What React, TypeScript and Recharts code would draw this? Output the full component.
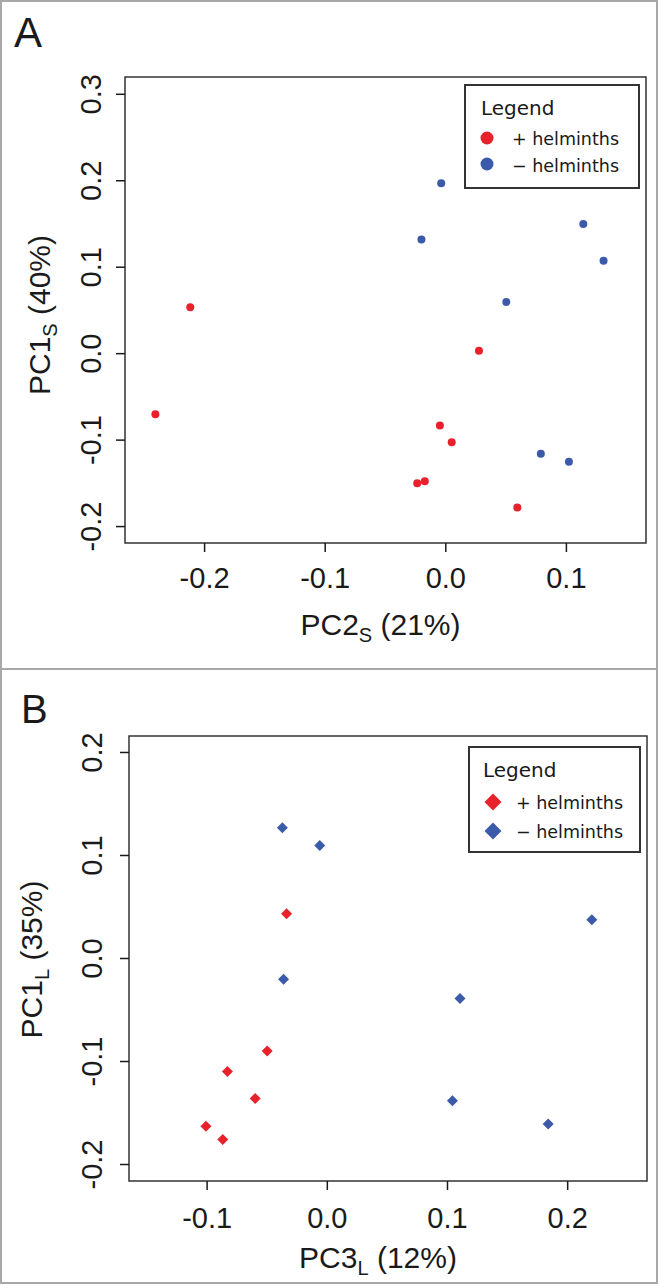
import { ScatterChart, Scatter, XAxis, YAxis, ReferenceArea } from "recharts";

// colours and fonts
const RED = "#e8212b";
const BLUE = "#3b5aa9";
const INK = "#1a1a1a";
const SANS = "'Liberation Sans', Arial, sans-serif";
const LEG_FONT = "'DejaVu Sans', sans-serif";

// Panel A: PC2s vs PC1s (circles)
const A_PLUS_X = [-0.2119, -0.2408, 0.0275, -0.0049, 0.0049, -0.0237, -0.0174, 0.0593];
const A_PLUS_Y = [0.0537, -0.07, 0.0035, -0.083, -0.1025, -0.15, -0.1477, -0.178];
const A_MINUS_X = [-0.0038, -0.0202, 0.114, 0.1308, 0.0502, 0.0788, 0.1021];
const A_MINUS_Y = [0.197, 0.132, 0.15, 0.1076, 0.0598, -0.1157, -0.125];
const A_X_TICKS = [-0.2, -0.1, 0, 0.1];
const A_Y_TICKS = [-0.2, -0.1, 0, 0.1, 0.2, 0.3];

// Panel B: PC3L vs PC1L (diamonds)
const B_PLUS_X = [-0.0339, -0.05, -0.0831, -0.06, -0.101, -0.087];
const B_PLUS_Y = [0.0435, -0.0898, -0.1097, -0.136, -0.1628, -0.1758];
const B_MINUS_X = [-0.0374, -0.0063, 0.2201, -0.0364, 0.1104, 0.1041, 0.1838];
const B_MINUS_Y = [0.127, 0.1097, 0.0377, -0.0201, -0.0389, -0.138, -0.1606];
const B_X_TICKS = [-0.1, 0, 0.1, 0.2];
const B_Y_TICKS = [-0.2, -0.1, 0, 0.1, 0.2];

const LEGEND_LABELS = ["+ helminths", "\u2212 helminths"];

const AXIS_W = 40; // space given to each axis inside the margins

const toPts = (xs: number[], ys: number[]) => xs.map((x, i) => ({ x, y: ys[i] }));
const fmt = (v: number) => (Math.abs(v) < 1e-9 ? "0.0" : v.toFixed(1));

function Dot(props: any) {
  return <circle cx={props.cx} cy={props.cy} r={4} fill={props.fill} />;
}

function Diamond(props: any) {
  const { cx, cy, fill } = props;
  const h = 5.5;
  return <polygon points={`${cx},${cy - h} ${cx + h},${cy} ${cx},${cy + h} ${cx - h},${cy}`} fill={fill} />;
}

function Marker({ kind, cx, cy, fill }: any) {
  if (kind === "diamond") {
    const h = 8.5;
    return <polygon points={`${cx},${cy - h} ${cx + h},${cy} ${cx},${cy + h} ${cx - h},${cy}`} fill={fill} />;
  }
  return <circle cx={cx} cy={cy} r={6.5} fill={fill} />;
}

function Panel(p: any) {
  const xTick = (t: any) => (
    <text x={t.x} y={t.y + p.xTickDy} textAnchor="middle" fontSize={29} fontFamily={SANS} fill={INK}>
      {fmt(t.payload.value)}
    </text>
  );
  const yTick = (t: any) => {
    const bx = t.x - p.yTickDx;
    return (
      <text x={bx} y={t.y} transform={`rotate(-90 ${bx} ${t.y})`} textAnchor="middle" fontSize={29} fontFamily={SANS} fill={INK}>
        {fmt(t.payload.value)}
      </text>
    );
  };
  const xTitle = (l: any) => {
    const vb = l.viewBox;
    return (
      <text x={vb.x + vb.width / 2 + p.xTitleDx} y={vb.y + p.xTitleDy} textAnchor="middle" fontSize={30} fontFamily={SANS} fill={INK}>
        {p.xTitle[0]}
        <tspan fontSize={20} dy={7}>{p.xTitle[1]}</tspan>
        <tspan dy={-7}>{p.xTitle[2]}</tspan>
      </text>
    );
  };
  const yTitle = (l: any) => {
    const vb = l.viewBox;
    const tx = vb.x + vb.width - p.yTitleDx;
    const ty = vb.y + vb.height / 2 + p.yTitleDy;
    return (
      <text x={tx} y={ty} transform={`rotate(-90 ${tx} ${ty})`} textAnchor="middle" fontSize={30} fontFamily={SANS} fill={INK}>
        {p.yTitle[0]}
        <tspan fontSize={20} dy={7}>{p.yTitle[1]}</tspan>
        <tspan dy={-7}>{p.yTitle[2]}</tspan>
      </text>
    );
  };
  const shape = p.kind === "diamond" ? Diamond : Dot;
  const lg = p.legend;
  const m = p.margin;

  return (
    <div style={{ position: "absolute", left: 0, top: p.top, width: 659, height: p.height }}>
      <ScatterChart
        width={659}
        height={p.height}
        margin={{ top: m.top, right: m.right, bottom: m.bottom - AXIS_W, left: m.left - AXIS_W }}
      >
        <XAxis
          type="number"
          dataKey="x"
          domain={p.xDomain}
          ticks={p.xTicks}
          allowDataOverflow
          axisLine={false}
          tickSize={9}
          tickMargin={0}
          height={AXIS_W}
          tickLine={{ stroke: INK, strokeWidth: 1.5 }}
          tick={xTick}
          label={{ content: xTitle }}
        />
        <YAxis
          type="number"
          dataKey="y"
          domain={p.yDomain}
          ticks={p.yTicks}
          allowDataOverflow
          axisLine={false}
          tickSize={9}
          tickMargin={0}
          width={AXIS_W}
          tickLine={{ stroke: INK, strokeWidth: 1.5 }}
          tick={yTick}
          label={{ content: yTitle }}
        />
        <ReferenceArea
          x1={p.xDomain[0]}
          x2={p.xDomain[1]}
          y1={p.yDomain[0]}
          y2={p.yDomain[1]}
          fill="none"
          fillOpacity={0}
          stroke="#333"
          strokeWidth={1.5}
        />
        <Scatter data={p.plus} fill={RED} shape={shape} isAnimationActive={false} />
        <Scatter data={p.minus} fill={BLUE} shape={shape} isAnimationActive={false} />
      </ScatterChart>

      {/* panel letter */}
      <svg style={{ position: "absolute", left: 0, top: 0 }} width={80} height={70}>
        <text x={p.letterX} y={p.letterY} fontSize={p.letterSize} fontFamily={SANS} fill={INK}>
          {p.letter}
        </text>
      </svg>

      {/* legend box */}
      <svg style={{ position: "absolute", left: lg.left, top: lg.top }} width={lg.w} height={lg.h}>
        <rect x={1} y={1} width={lg.w - 2} height={lg.h - 2} fill="#fff" stroke="#333" strokeWidth={2} />
        <text x={lg.titleX} y={31} fontSize={20} fontFamily={LEG_FONT} fill={INK}>
          Legend
        </text>
        {LEGEND_LABELS.map((lab, i) => (
          <g key={lab}>
            <Marker kind={p.kind} cx={lg.mx} cy={lg.my[i]} fill={i === 0 ? RED : BLUE} />
            <text x={lg.tx} y={lg.ty[i]} fontSize={17.5} fontFamily={LEG_FONT} fill={INK}>
              {lab}
            </text>
          </g>
        ))}
      </svg>
    </div>
  );
}

export default function App() {
  return (
    <div style={{ position: "absolute", left: 0, top: 0, width: 659, height: 1285, background: "#fff" }}>
      <Panel
        top={0}
        height={669}
        margin={{ top: 77, right: 13, bottom: 126, left: 125 }}
        kind="circle"
        plus={toPts(A_PLUS_X, A_PLUS_Y)}
        minus={toPts(A_MINUS_X, A_MINUS_Y)}
        xDomain={[-0.266, 0.166]}
        yDomain={[-0.219, 0.32]}
        xTicks={A_X_TICKS}
        yTicks={A_Y_TICKS}
        xTickDy={36}
        yTickDx={15}
        xTitle={["PC2", "S", " (21%)"]}
        yTitle={["PC1", "S", " (40%)"]}
        xTitleDx={-5}
        xTitleDy={92}
        yTitleDx={75}
        yTitleDy={5}
        letter="A"
        letterX={14}
        letterY={47}
        letterSize={42}
        legend={{ left: 464, top: 84, w: 176, h: 105, titleX: 17, mx: 23, my: [54, 80], tx: 48, ty: [61, 88] }}
      />
      <Panel
        top={669}
        height={616}
        margin={{ top: 67, right: 12, bottom: 104, left: 129 }}
        kind="diamond"
        plus={toPts(B_PLUS_X, B_PLUS_Y)}
        minus={toPts(B_MINUS_X, B_MINUS_Y)}
        xDomain={[-0.165, 0.266]}
        yDomain={[-0.216, 0.216]}
        xTicks={B_X_TICKS}
        yTicks={B_Y_TICKS}
        xTickDy={38}
        yTickDx={18}
        xTitle={["PC3", "L", " (12%)"]}
        yTitle={["PC1", "L", " (35%)"]}
        xTitleDx={-10}
        xTitleDy={87}
        yTitleDx={87}
        yTitleDy={1}
        letter="B"
        letterX={21}
        letterY={54}
        letterSize={40}
        legend={{ left: 468, top: 77, w: 173, h: 107, titleX: 15, mx: 25, my: [56, 85], tx: 48, ty: [63, 92] }}
      />
      {/* frame and divider */}
      <div
        style={{
          position: "absolute",
          left: 0,
          top: 0,
          width: 658,
          height: 1284,
          border: "2px solid #a8a8a8",
          boxSizing: "border-box",
          pointerEvents: "none",
        }}
      />
      <div style={{ position: "absolute", left: 0, top: 668, width: 658, height: 2, background: "#a8a8a8" }} />
    </div>
  );
}
